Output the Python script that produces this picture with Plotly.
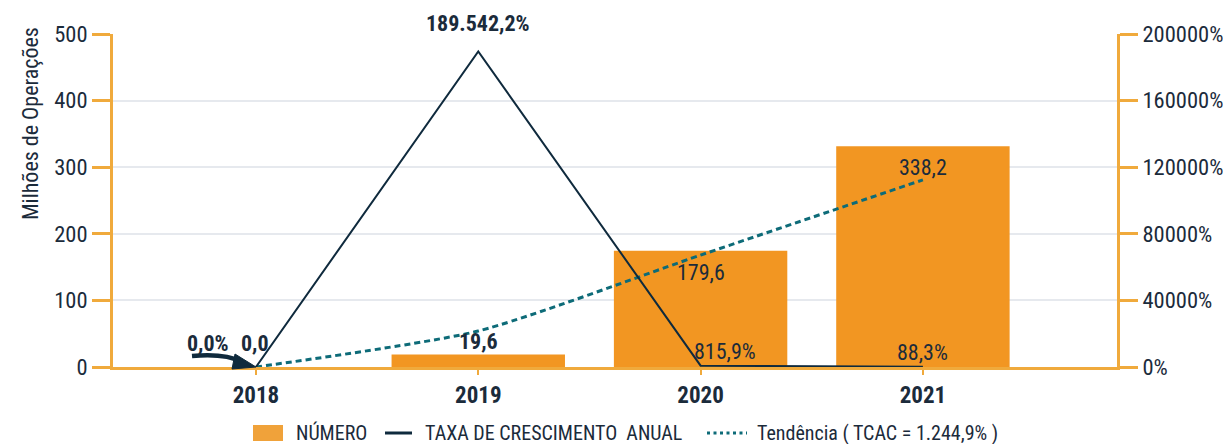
import plotly.graph_objects as go

# ---- data ----
anos = ["2018", "2019", "2020", "2021"]
numero_barras = [0.0, 18.6, 174.6, 331.5]           # drawn bar heights (milhões)
numero_rotulos = ["0,0", "19,6", "179,6", "338,2"]
taxa_crescimento = [0.0, 189542.2, 815.9, 88.3]      # %
taxa_rotulos = ["0,0%", "189.542,2%", "815,9%", "88,3%"]
tendencia = [0.0, 54.0, 168.0, 281.0]                # milhões
y_ticks_esq = [0, 100, 200, 300, 400, 500]
y_ticks_dir = [0, 40000, 80000, 120000, 160000, 200000]
y_ticks_dir_txt = ["0%", "40000%", "80000%", "120000%", "160000%", "200000%"]
legenda = ["NÚMERO", "TAXA DE CRESCIMENTO&nbsp; ANUAL", "Tendência ( TCAC = 1.244,9% )"]

FONT = "Roboto Condensed, Roboto, sans-serif"
TXT = "#1b2b3b"
ORANGE = "#F29622"
LEG_ORANGE = "#F0A23A"
AXIS = "#F0AA3C"
NAVY = "#0f2a3d"
TEAL = "#0d6b78"
GRID = "#e6e9ee"

# the page body has an 8px margin: figure is sized/offset to compensate
W, H = 1223, 436
L, R, T, B = 105, 114, 26, 77

def px(x_ref):  # reference-screen x -> paper x
    return (x_ref - 113) / (W - L - R)
def py(y_ref):  # reference-screen y -> paper y
    return (367 - y_ref) / (H - T - B)

fig = go.Figure()
fig.add_trace(go.Bar(x=anos, y=numero_barras, name=legenda[0],
                     marker=dict(color=ORANGE, line=dict(width=0)),
                     width=0.78, yaxis="y"))
fig.add_trace(go.Scatter(x=anos, y=taxa_crescimento, name=legenda[1],
                         mode="lines", line=dict(color=NAVY, width=2), yaxis="y2"))
fig.add_trace(go.Scatter(x=anos, y=tendencia, name=legenda[2],
                         mode="lines", line=dict(color=TEAL, width=3, dash="6px,4px", shape="spline",
                                                 smoothing=0.6),
                         yaxis="y"))

ann = []
def lab(i, y, text, yref="y", xshift=0, yshift=0, bold=True, size=22):
    ann.append(dict(x=i, y=y, xref="x", yref=yref, text=(f"<b>{text}</b>" if bold else text),
                    showarrow=False, xshift=xshift, yshift=yshift,
                    xanchor="center", yanchor="middle",
                    font=dict(family=FONT, size=size, color=TXT)))

lab(0, numero_barras[0], numero_rotulos[0], xshift=-1, yshift=24)
lab(0, taxa_crescimento[0], taxa_rotulos[0], yref="y2", xshift=-48, yshift=24)
lab(1, numero_barras[1], numero_rotulos[1], yshift=13)
lab(1, taxa_crescimento[1], taxa_rotulos[1], yref="y2", yshift=28)
lab(2, numero_barras[2], numero_rotulos[2], yshift=-22, bold=False)
lab(2, taxa_crescimento[2], taxa_rotulos[2], yref="y2", xshift=24, yshift=14, bold=False)
lab(3, taxa_crescimento[3], taxa_rotulos[3], yref="y2", yshift=14, bold=False)
lab(3, tendencia[3], numero_rotulos[3], yshift=12, bold=False)

# axis title (rotated, placed high like the reference)
ann.append(dict(x=px(30), y=py(124), xref="paper", yref="paper", text="Milhões de Operações",
                textangle=-90, showarrow=False, xanchor="center", yanchor="middle",
                font=dict(family=FONT, size=22, color=TXT)))

# manual legend
LEG_Y = 433
for xl, txt in zip([294, 423, 755], legenda):
    ann.append(dict(x=px(xl), y=py(LEG_Y), xref="paper", yref="paper", text=txt,
                    showarrow=False, xanchor="left", yanchor="middle",
                    font=dict(family=FONT, size=20, color=TXT)))

shapes = [
    dict(type="rect", xref="paper", yref="paper", x0=px(253), x1=px(283), y0=py(425), y1=py(441),
         fillcolor=LEG_ORANGE, line=dict(width=0)),
    dict(type="line", xref="paper", yref="paper", x0=px(385), x1=px(412), y0=py(433), y1=py(433),
         line=dict(color=NAVY, width=3)),
    dict(type="line", xref="paper", yref="paper", x0=px(707), x1=px(747), y0=py(433), y1=py(433),
         line=dict(color=TEAL, width=3, dash="3px,3.5px")),
]

# curved arrow pointing to the 2018 point
path = f"M {px(192)},{py(356)} Q {px(225)},{py(353)} {px(242)},{py(362)}"
head = f"M {px(235)},{py(354)} L {px(256)},{py(367)} L {px(232)},{py(369)} Z"
shapes += [
    dict(type="path", path=path, xref="paper", yref="paper", line=dict(color=NAVY, width=4.5)),
    dict(type="path", path=head, xref="paper", yref="paper", line=dict(color=NAVY, width=1),
         fillcolor=NAVY),
]

fig.update_layout(
    width=W, height=H,
    margin=dict(l=L, r=R, t=T, b=B, pad=0, autoexpand=False),
    plot_bgcolor="white", paper_bgcolor="white",
    font=dict(family=FONT, size=22, color=TXT),
    showlegend=False,
    xaxis=dict(type="category", range=[-0.643, 3.873], showgrid=False,
               showline=True, linecolor=AXIS, linewidth=3,
               ticks="outside", ticklen=5, tickwidth=2, tickcolor=AXIS,
               tickfont=dict(family=FONT, size=23, color=TXT, weight="bold"),
               zeroline=False),
    yaxis=dict(range=[0, 500], tickvals=y_ticks_esq, showgrid=True, gridcolor=GRID, gridwidth=2,
               showline=True, linecolor=AXIS, linewidth=3,
               ticks="outside", ticklen=18, tickwidth=3, tickcolor=AXIS,
               tickfont=dict(family=FONT, size=22.5, color=TXT), zeroline=False),
    yaxis2=dict(range=[0, 200000], tickvals=y_ticks_dir, ticktext=y_ticks_dir_txt,
                overlaying="y", side="right", showgrid=False,
                showline=True, linecolor=AXIS, linewidth=3,
                ticks="outside", ticklen=18, tickwidth=3, tickcolor=AXIS,
                tickfont=dict(family=FONT, size=22.5, color=TXT), zeroline=False),
    annotations=ann,
    shapes=shapes,
)

fig.write_html("out.html")
